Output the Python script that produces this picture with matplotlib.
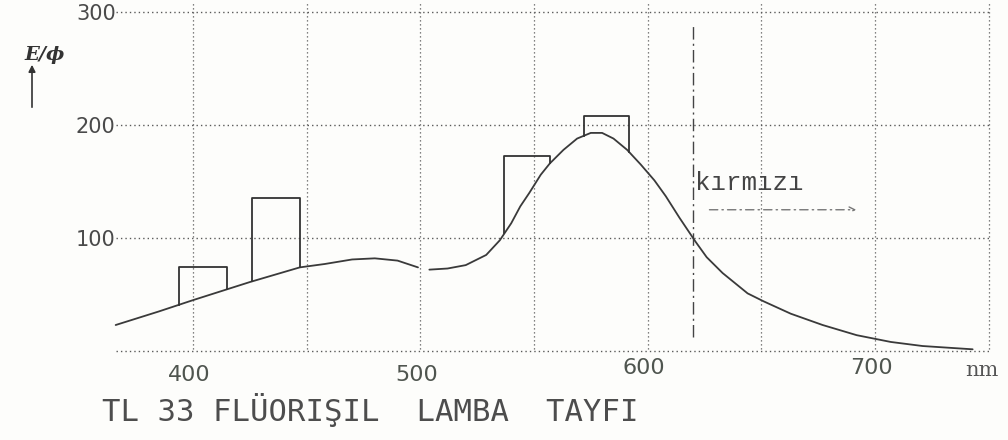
import numpy as np
import matplotlib
matplotlib.use('Agg')
import matplotlib.pyplot as plt

# ---- data ----
wavelength = [366, 385, 400, 425, 447, 458, 470, 480, 490, 499, 502, 504, 512, 520,
              529, 535, 540, 544, 548, 553, 557, 563, 569, 575, 580, 585, 591, 597,
              603, 608, 614, 621, 626, 633, 644, 651, 663, 677, 692, 707, 721, 743]
emission = [23, 35, 45, 61, 74, 77, 81, 82, 80, 74, np.nan, 72, 73, 76,
            85, 98, 113, 128, 140, 156, 166, 178, 188, 193, 193, 188, 178, 165,
            151, 137, 118, 97, 83, 69, 51, 44, 33, 23, 14, 8, 4.4, 1.5]

band_lo = [394, 426, 537, 572]
band_hi = [415, 447, 557, 592]
band_top = [74, 135, 173, 208]

y_ticks = [100, 200, 300]
y_tick_labels = ['100', '200', '300']
x_ticks = [400, 500, 600, 700]
x_tick_labels = ['400', '500', '600', '700']
grid_x = [400, 450, 500, 550, 600, 650, 700, 750]
grid_y = [0, 100, 200, 300]
red_limit = 620
red_label = 'kırmızı'
unit_label = 'nm'
y_label = 'E/ϕ'
title = 'TL 33 FLÜORIŞIL  LAMBA  TAYFI'

# ---- figure ----
W, H = 1008, 440
fig = plt.figure(figsize=(W / 100, H / 100), dpi=100)
fig.patch.set_facecolor('#fdfdfb')
ax = fig.add_axes([113.4 / W, (H - 356.65) / H, 879.7 / W, 355.95 / H])
ax.set_xlim(365, 752)
ax.set_ylim(-5, 310)
ax.set_facecolor('none')
for s in ax.spines.values():
    s.set_visible(False)
ax.set_xticks([])
ax.set_yticks([])

grid_col = '#5a5a5a'
dot = (0, (1, 2.2))
ax.hlines(grid_y, 366, 751, colors=grid_col, linestyles=dot, lw=1.0, clip_on=False)
ax.vlines(grid_x, 2, 309, colors=grid_col, linestyles=dot, lw=0.9, clip_on=False)
ax.vlines(red_limit, 12, 289, colors='#444444', linestyles=(0, (9, 3, 1.5, 3)), lw=1.0)

# continuum curve
wl = np.array(wavelength, dtype=float)
em = np.array(emission, dtype=float)
ax.plot(wl, em, color='#3a3a3a', lw=1.3, solid_capstyle='round', solid_joinstyle='round')

# mercury line bands drawn as open boxes sitting on the curve
valid = ~np.isnan(em)
for lo, hi, top in zip(band_lo, band_hi, band_top):
    ylo = np.interp(lo, wl[valid], em[valid])
    yhi = np.interp(hi, wl[valid], em[valid])
    ax.plot([lo, lo, hi, hi], [ylo, top, top, yhi], color='#333333', lw=1.3)

# y tick labels
for v, lab in zip(y_ticks, y_tick_labels):
    ax.text(366, v - 1.5, lab, ha='right', va='center', fontsize=15, color='#4a4a4a',
            family='DejaVu Sans')
# x tick labels (the two right-hand labels sit slightly higher in the scan)
label_dy = [-21, -21, -15, -15]
for v, lab, dy in zip(x_ticks, x_tick_labels, label_dy):
    ax.text(v - 1.5, dy, lab, ha='center', va='center', fontsize=16, color='#4f554f',
            family='DejaVu Sans')
ax.text(747, -17, unit_label, ha='center', va='center', fontsize=15, color='#555555',
        family='DejaVu Serif')

# red region label and arrow
ax.text(621, 149, red_label, ha='left', va='center', fontsize=18.5, color='#444444',
        family='Liberation Mono')
ax.annotate('', xy=(693, 125), xytext=(626, 125),
            arrowprops=dict(arrowstyle='->', color='#777777', lw=1.0,
                            linestyle=(0, (6, 3, 1, 3))))

# y-axis quantity with arrow
fig.text(24 / W, 1 - 55 / H, y_label, ha='left', va='center', fontsize=14,
         family='DejaVu Serif', style='italic', weight='bold', color='#333333')
ax.annotate('', xy=(32 / W, 1 - 62 / H), xytext=(32 / W, 1 - 110 / H),
            xycoords='figure fraction', textcoords='figure fraction',
            arrowprops=dict(arrowstyle='-|>', color='#333333', lw=1.2,
                            mutation_scale=10))

# title
fig.text(102 / W, 1 - 410 / H, title, ha='left', va='center', fontsize=22.1,
         color='#4d4d4d', family='DejaVu Sans Mono')

fig.savefig('out.png', dpi=100, facecolor=fig.get_facecolor())
